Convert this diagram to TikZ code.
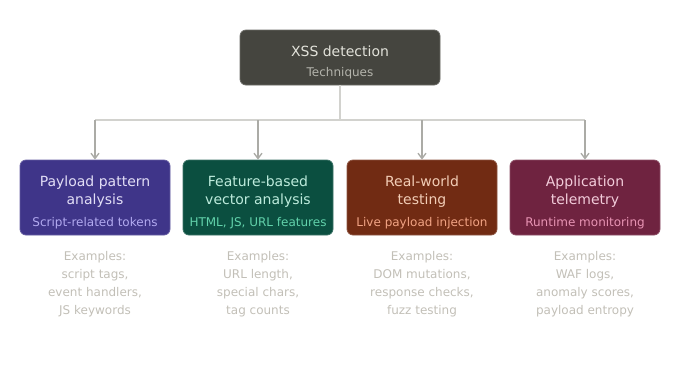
\documentclass[tikz,border=0pt]{standalone}
\usepackage{fontspec}
\setmainfont{DejaVu Sans}
\usetikzlibrary{arrows.meta,positioning}
\definecolor{rootfill}{HTML}{45453F}
\definecolor{roottext}{HTML}{E2E2DA}
\definecolor{rootsub}{HTML}{B4B4AC}
\definecolor{payfill}{HTML}{3F3589}
\definecolor{paytext}{HTML}{E2DEF6}
\definecolor{paysub}{HTML}{B2AAF0}
\definecolor{featfill}{HTML}{0B4F40}
\definecolor{feattext}{HTML}{BDEBDC}
\definecolor{featsub}{HTML}{62D2AB}
\definecolor{realfill}{HTML}{712B13}
\definecolor{realtext}{HTML}{F2CDB6}
\definecolor{realsub}{HTML}{F1A384}
\definecolor{telefill}{HTML}{6F2340}
\definecolor{teletext}{HTML}{F2CCDA}
\definecolor{telesub}{HTML}{E894B4}
\definecolor{linegray}{HTML}{D2D2CE}
\definecolor{arrowgray}{HTML}{ABABA6}
\definecolor{exgray}{HTML}{C2BFB7}

% strut that lowers the text block inside a box
\newcommand{\topgap}{\rule{0pt}{15.5pt}}

\tikzset{
  catbox/.style 2 args={draw=#1!80!white, fill=#1, text=#2, rounded corners=4.5pt,
    line width=0.6pt, align=center, minimum width=112.5pt, minimum height=56.25pt,
    inner sep=0pt, font=\fontsize{10.5}{13.5}\selectfont},
  extext/.style={text=exgray, align=center, inner sep=0pt,
    font=\fontsize{9}{13.5}\selectfont},
  trunk/.style={linegray, line width=1pt},
  branch/.style={arrowgray, line width=1pt, -{Straight Barb[length=4pt,width=6pt]}}
}

\begin{document}
\begin{tikzpicture}[x=0.75pt,y=-0.75pt]
  \useasboundingbox (0,0) rectangle (680,380);

  \node[catbox={rootfill}{roottext}, minimum width=150pt, minimum height=41.25pt] (root) at (340,57.5)
    {\topgap XSS detection\\[2pt]{\fontsize{9}{11}\selectfont\color{rootsub}Techniques}};

  \node[catbox={payfill}{paytext}] (pay) at (95,197.5)
    {\topgap Payload pattern\\analysis\\[2.5pt]{\fontsize{9}{11}\selectfont\color{paysub}Script-related tokens}};
  \node[catbox={featfill}{feattext}] (feat) at (258,197.5)
    {\topgap Feature-based\\vector analysis\\[2.5pt]{\fontsize{9}{11}\selectfont\color{featsub}HTML, JS, URL features}};
  \node[catbox={realfill}{realtext}] (real) at (422,197.5)
    {\topgap Real-world\\testing\\[2.5pt]{\fontsize{9}{11}\selectfont\color{realsub}Live payload injection}};
  \node[catbox={telefill}{teletext}] (tele) at (585,197.5)
    {\topgap Application\\telemetry\\[2.5pt]{\fontsize{9}{11}\selectfont\color{telesub}Runtime monitoring}};

  % connectors
  \coordinate (split) at (340,120);
  \draw[trunk] (root.south) -- (split);
  \draw[trunk] (pay.north |- split) -- (tele.north |- split);
  \draw[branch] (pay.north |- split) -- (pay.north);
  \draw[branch] (feat.north |- split) -- (feat.north);
  \draw[branch] (real.north |- split) -- (real.north);
  \draw[branch] (tele.north |- split) -- (tele.north);

  % examples
  \node[extext, below=12pt of pay] (payex) {Examples:\\script tags,\\event handlers,\\JS keywords};
  \node[extext, below=12pt of feat] (featex) {Examples:\\URL length,\\special chars,\\tag counts};
  \node[extext, below=12pt of real] (realex) {Examples:\\DOM mutations,\\response checks,\\fuzz testing};
  \node[extext, below=12pt of tele] (teleex) {Examples:\\WAF logs,\\anomaly scores,\\payload entropy};
\end{tikzpicture}
\end{document}
